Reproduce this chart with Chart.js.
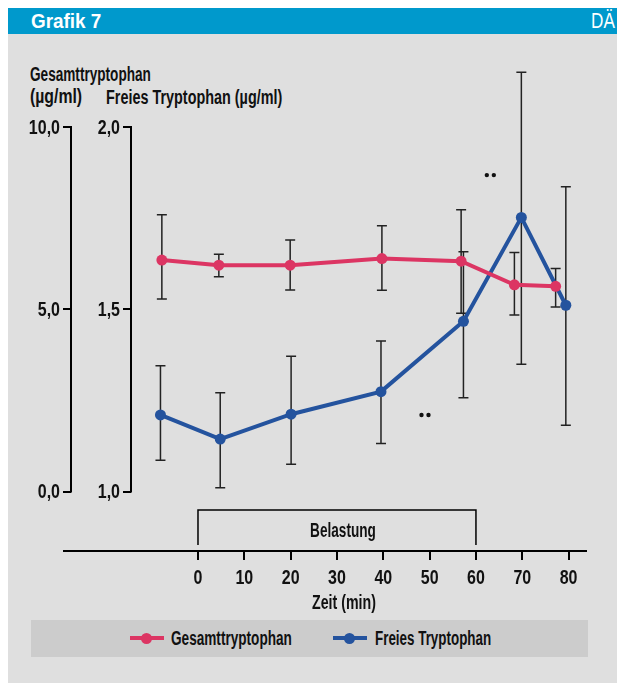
<!DOCTYPE html>
<html>
<head>
<meta charset="utf-8">
<script src="https://cdn.jsdelivr.net/npm/chart.js@4.4.1/dist/chart.umd.min.js"></script>
<style>
  html, body { margin: 0; padding: 0; background: #ffffff; }
  body { width: 617px; height: 683px; position: relative; overflow: hidden;
         font-family: "Liberation Sans", Arial, sans-serif; }
  .abs { position: absolute; white-space: nowrap; }
  .cond { display: inline-block; transform-origin: 0 50%; }
  #header { left: 8px; top: 8px; width: 609px; height: 26px; background: #0099cc; }
  #panel { left: 8px; top: 34px; width: 609px; height: 649px; background: #dfdfdf; }
  .hdr { color: #fff; font-weight: bold; font-size: 21px; line-height: 26px; top: 0; }
  .lbl { color: #111; font-size: 20px; font-weight: bold; line-height: 22px; }
  #legend { left: 31px; top: 620px; width: 557px; height: 37px; background: #cccccc; }
  .lgline { position: absolute; height: 4px; top: 16px; width: 34px; }
  .lgdot { position: absolute; width: 11px; height: 11px; border-radius: 50%; top: 12.5px; }
  .lgtext { position: absolute; top: 7px; font-size: 20px; font-weight: bold; line-height: 22px; color: #111; }
  canvas { position: absolute; left: 0; top: 0; }
</style>
</head>
<body>
<div id="panel" class="abs"></div>
<div id="header" class="abs">
  <span class="abs hdr" style="left:23px;"><span class="cond" style="transform:scaleX(0.9)">Grafik 7</span></span>
  <span class="abs hdr" style="left:583px;font-weight:normal;font-size:22px;"><span class="cond" style="transform:scaleX(0.78)">DÄ</span></span>
</div>
<div class="abs lbl" style="left:30px;top:63px;"><span class="cond" style="transform:scaleX(0.68)">Gesamttryptophan</span></div>
<div class="abs lbl" style="left:30px;top:85px;"><span class="cond" style="transform:scaleX(0.79)">(µg/ml)</span></div>
<div class="abs lbl" style="left:106px;top:86px;"><span class="cond" style="transform:scaleX(0.72)">Freies Tryptophan (µg/ml)</span></div>
<div id="legend" class="abs">
  <div class="lgline" style="left:99px;background:#dc3563;"></div>
  <div class="lgdot" style="left:110px;background:#dc3563;"></div>
  <div class="lgtext" style="left:140px;"><span class="cond" style="transform:scaleX(0.68)">Gesamttryptophan</span></div>
  <div class="lgline" style="left:302px;background:#24539e;"></div>
  <div class="lgdot" style="left:313px;background:#24539e;"></div>
  <div class="lgtext" style="left:344px;"><span class="cond" style="transform:scaleX(0.67)">Freies Tryptophan</span></div>
</div>
<canvas id="c" width="617" height="683"></canvas>
<script>
// ---- data ----
const seriesNames = ["Gesamttryptophan", "Freies Tryptophan"];
const xTicks = [0, 10, 20, 30, 40, 50, 60, 70, 80];
const gesamtTicks = [0, 5, 10];
const freiesTicks = [1.0, 1.5, 2.0];
const xTitle = "Zeit (min)";

const gesamtX    = [-7.8, 4.5, 19.9, 39.7, 56.8, 68.3, 77.2];
const gesamtY    = [6.35, 6.21, 6.21, 6.39, 6.32, 5.67, 5.63];
const gesamtHigh = [7.59, 6.51, 6.90, 7.29, 7.73, 6.56, 6.12];
const gesamtLow  = [5.28, 5.89, 5.53, 5.52, 4.89, 4.84, 5.06];

const freiesX    = [-8.1, 4.8, 20.1, 39.5, 57.3, 69.8, 79.4];
const freiesY    = [1.210, 1.144, 1.212, 1.274, 1.467, 1.752, 1.511];
const freiesHigh = [1.345, 1.271, 1.371, 1.413, 1.658, 2.150, 1.836];
const freiesLow  = [1.086, 1.010, 1.075, 1.132, 1.257, 1.349, 1.182];

const belastungRange = [0, 60];
const belastungLabel = "Belastung";
const significanceMarks = [ { x: 63.1, y: 1.868 }, { x: 49.0, y: 1.21 } ]; // on Freies scale

// ---- styles ----
const PINK = "#dc3563";
const BLUE = "#24539e";
const FONT = '"Liberation Sans", Arial, sans-serif';

function condText(ctx, text, x, y, align, sx) {
  ctx.save();
  ctx.translate(x, y);
  ctx.scale(sx, 1);
  ctx.textAlign = align;
  ctx.textBaseline = "middle";
  ctx.fillText(text, 0, 0);
  ctx.restore();
}
const commaFmt = v => Number(v).toFixed(1).replace(".", ",");

const errorBars = {
  id: "errorBars",
  beforeDatasetsDraw(chart) {
    const ctx = chart.ctx;
    const xs = chart.scales.x;
    const sets = [
      { sc: chart.scales.yG, X: gesamtX, H: gesamtHigh, L: gesamtLow },
      { sc: chart.scales.yF, X: freiesX, H: freiesHigh, L: freiesLow }
    ];
    ctx.save();
    ctx.strokeStyle = "#222";
    ctx.lineWidth = 1.5;
    sets.forEach(s => {
      s.X.forEach((xv, i) => {
        const px = xs.getPixelForValue(xv);
        const hi = s.sc.getPixelForValue(s.H[i]);
        const lo = s.sc.getPixelForValue(s.L[i]);
        ctx.beginPath();
        ctx.moveTo(px, hi); ctx.lineTo(px, lo);
        ctx.moveTo(px - 5, hi); ctx.lineTo(px + 5, hi);
        ctx.moveTo(px - 5, lo); ctx.lineTo(px + 5, lo);
        ctx.stroke();
      });
    });
    ctx.restore();
  }
};

const axesAndNotes = {
  id: "axesAndNotes",
  afterDraw(chart) {
    const ctx = chart.ctx;
    const xs = chart.scales.x, yG = chart.scales.yG, yF = chart.scales.yF;
    const yAxis = chart.chartArea.bottom;
    ctx.save();
    ctx.strokeStyle = "#000";
    ctx.lineWidth = 2;
    // vertical axis lines
    [[yG, gesamtTicks], [yF, freiesTicks]].forEach(([sc, t]) => {
      ctx.beginPath();
      ctx.moveTo(sc.right, sc.getPixelForValue(t[0]) + 1);
      ctx.lineTo(sc.right, sc.getPixelForValue(t[t.length - 1]) - 1);
      ctx.stroke();
    });
    // horizontal x axis line
    ctx.beginPath();
    ctx.moveTo(yG.right - 8, yAxis);
    ctx.lineTo(chart.chartArea.right, yAxis);
    ctx.stroke();

    ctx.fillStyle = "#111";
    ctx.font = "bold 20px " + FONT;
    // y tick labels
    [[yG, gesamtTicks], [yF, freiesTicks]].forEach(([sc, t]) => {
      t.forEach(v => condText(ctx, commaFmt(v), sc.right - 11, sc.getPixelForValue(v) + 1, "right", 0.8));
    });
    // x tick labels
    xTicks.forEach(v => condText(ctx, String(v), xs.getPixelForValue(v), yAxis + 27, "center", 0.8));
    // x title
    condText(ctx, xTitle, xs.getPixelForValue(31.5), yAxis + 52, "center", 0.71);

    // Belastung bracket
    ctx.lineWidth = 1.5;
    const bx0 = xs.getPixelForValue(belastungRange[0]);
    const bx1 = xs.getPixelForValue(belastungRange[1]);
    ctx.beginPath();
    ctx.moveTo(bx0, yAxis - 6);
    ctx.lineTo(bx0, yAxis - 41);
    ctx.lineTo(bx1, yAxis - 41);
    ctx.lineTo(bx1, yAxis - 6);
    ctx.stroke();
    condText(ctx, belastungLabel, (bx0 + bx1) / 2 + 6, yAxis - 20, "center", 0.68);

    // significance dots
    significanceMarks.forEach(m => {
      const px = xs.getPixelForValue(m.x), py = yF.getPixelForValue(m.y);
      [-3.5, 3.5].forEach(dx => {
        ctx.beginPath();
        ctx.arc(px + dx, py, 2.2, 0, Math.PI * 2);
        ctx.fill();
      });
    });
    ctx.restore();
  }
};

function fixTicks(values) {
  return function (scale) { scale.ticks = values.map(v => ({ value: v })); };
}

new Chart(document.getElementById("c"), {
  type: "line",
  data: {
    datasets: [
      {
        label: seriesNames[0], yAxisID: "yG",
        data: gesamtX.map((x, i) => ({ x, y: gesamtY[i] })),
        borderColor: PINK, backgroundColor: PINK, borderWidth: 4,
        pointRadius: 5.5, pointBackgroundColor: PINK, pointBorderWidth: 0, tension: 0
      },
      {
        label: seriesNames[1], yAxisID: "yF",
        data: freiesX.map((x, i) => ({ x, y: freiesY[i] })),
        borderColor: BLUE, backgroundColor: BLUE, borderWidth: 4,
        pointRadius: 5.5, pointBackgroundColor: BLUE, pointBorderWidth: 0, tension: 0
      }
    ]
  },
  options: {
    responsive: false,
    animation: false,
    devicePixelRatio: 1,
    layout: { padding: { left: 8, top: 127, right: 30, bottom: 57 } },
    plugins: { legend: { display: false }, tooltip: { enabled: false } },
    scales: {
      x: {
        type: "linear", position: "bottom", min: -14.46, max: 83.97,
        afterBuildTicks: fixTicks(xTicks),
        afterFit: s => { s.height = 75; },
        grid: { drawOnChartArea: false, drawTicks: true, tickLength: 9, lineWidth: 2, color: "#000" },
        border: { display: false },
        ticks: { display: false, autoSkip: false, maxRotation: 0 }
      },
      yG: {
        type: "linear", position: "left", weight: 2, min: -1.632, max: 10,
        afterBuildTicks: fixTicks(gesamtTicks),
        afterFit: s => { s.width = 63; },
        grid: { drawOnChartArea: false, drawTicks: true, tickLength: 8, lineWidth: 2, color: "#000" },
        border: { display: false },
        ticks: { display: false }
      },
      yF: {
        type: "linear", position: "left", weight: 1, min: 0.8368, max: 2.0,
        afterBuildTicks: fixTicks(freiesTicks),
        afterFit: s => { s.width = 60; },
        grid: { drawOnChartArea: false, drawTicks: true, tickLength: 8, lineWidth: 2, color: "#000" },
        border: { display: false },
        ticks: { display: false }
      }
    }
  },
  plugins: [errorBars, axesAndNotes]
});
</script>
</body>
</html>
